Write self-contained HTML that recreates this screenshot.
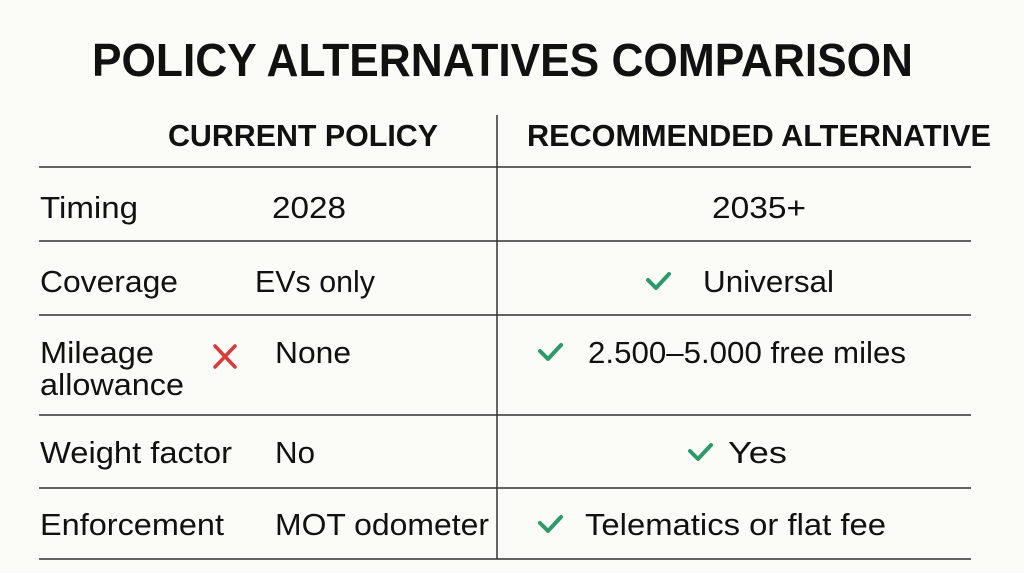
<!DOCTYPE html>
<html><head><meta charset="utf-8"><style>
html,body{margin:0;padding:0;background:#fbfbf8;}
svg{display:block;}
text{font-family:"Liberation Sans",sans-serif;fill:#111;}
</style></head><body>
<svg width="1024" height="573" viewBox="0 0 1024 573">
<rect width="1024" height="573" fill="#fbfbf8"/>
<text x="92" y="76" font-size="46" font-weight="bold" textLength="821" lengthAdjust="spacingAndGlyphs">POLICY ALTERNATIVES COMPARISON</text>
<text x="168" y="146" font-size="31" font-weight="bold" textLength="270" lengthAdjust="spacingAndGlyphs">CURRENT POLICY</text>
<text x="527" y="146" font-size="31" font-weight="bold" textLength="464" lengthAdjust="spacingAndGlyphs">RECOMMENDED ALTERNATIVE</text>
<g stroke="#333" stroke-width="1.5">
<line x1="39" y1="167" x2="971" y2="167"/>
<line x1="39" y1="241" x2="971" y2="241"/>
<line x1="39" y1="315" x2="971" y2="315"/>
<line x1="39" y1="415" x2="971" y2="415"/>
<line x1="39" y1="488" x2="971" y2="488"/>
<line x1="39" y1="559" x2="971" y2="559"/>
<line x1="497" y1="115" x2="497" y2="559"/>
</g>
<g font-size="31">
<text x="40" y="218" textLength="98" lengthAdjust="spacingAndGlyphs">Timing</text>
<text x="272" y="218" textLength="74" lengthAdjust="spacingAndGlyphs">2028</text>
<text x="712" y="218" textLength="94" lengthAdjust="spacingAndGlyphs">2035+</text>
<text x="40" y="292" textLength="138" lengthAdjust="spacingAndGlyphs">Coverage</text>
<text x="255" y="292" textLength="120" lengthAdjust="spacingAndGlyphs">EVs only</text>
<text x="703" y="292" textLength="131" lengthAdjust="spacingAndGlyphs">Universal</text>
<text x="40" y="363" textLength="114" lengthAdjust="spacingAndGlyphs">Mileage</text>
<text x="40" y="395" textLength="144" lengthAdjust="spacingAndGlyphs">allowance</text>
<text x="275" y="363" textLength="76" lengthAdjust="spacingAndGlyphs">None</text>
<text x="588" y="363" textLength="318" lengthAdjust="spacingAndGlyphs">2.500–5.000 free miles</text>
<text x="40" y="463" textLength="192" lengthAdjust="spacingAndGlyphs">Weight factor</text>
<text x="275" y="463" textLength="40" lengthAdjust="spacingAndGlyphs">No</text>
<text x="728" y="463" textLength="59" lengthAdjust="spacingAndGlyphs">Yes</text>
<text x="40" y="535" textLength="184" lengthAdjust="spacingAndGlyphs">Enforcement</text>
<text x="275" y="535" textLength="214" lengthAdjust="spacingAndGlyphs">MOT odometer</text>
<text x="585" y="535" textLength="301" lengthAdjust="spacingAndGlyphs">Telematics or flat fee</text>
</g>
<g stroke="#2e9a6a" stroke-width="4" fill="none" stroke-linecap="round" stroke-linejoin="round">
<polyline points="648,280 656,288 669,274"/>
<polyline points="540,351 548,359 561,345"/>
<polyline points="690,451 698,459 711,445"/>
<polyline points="540,523 548,531 561,517"/>
</g>
<g stroke="#d93a3a" stroke-width="3.5" stroke-linecap="round">
<line x1="215" y1="346" x2="235" y2="367"/>
<line x1="235" y1="346" x2="215" y2="367"/>
</g>
</svg>
</body></html>
